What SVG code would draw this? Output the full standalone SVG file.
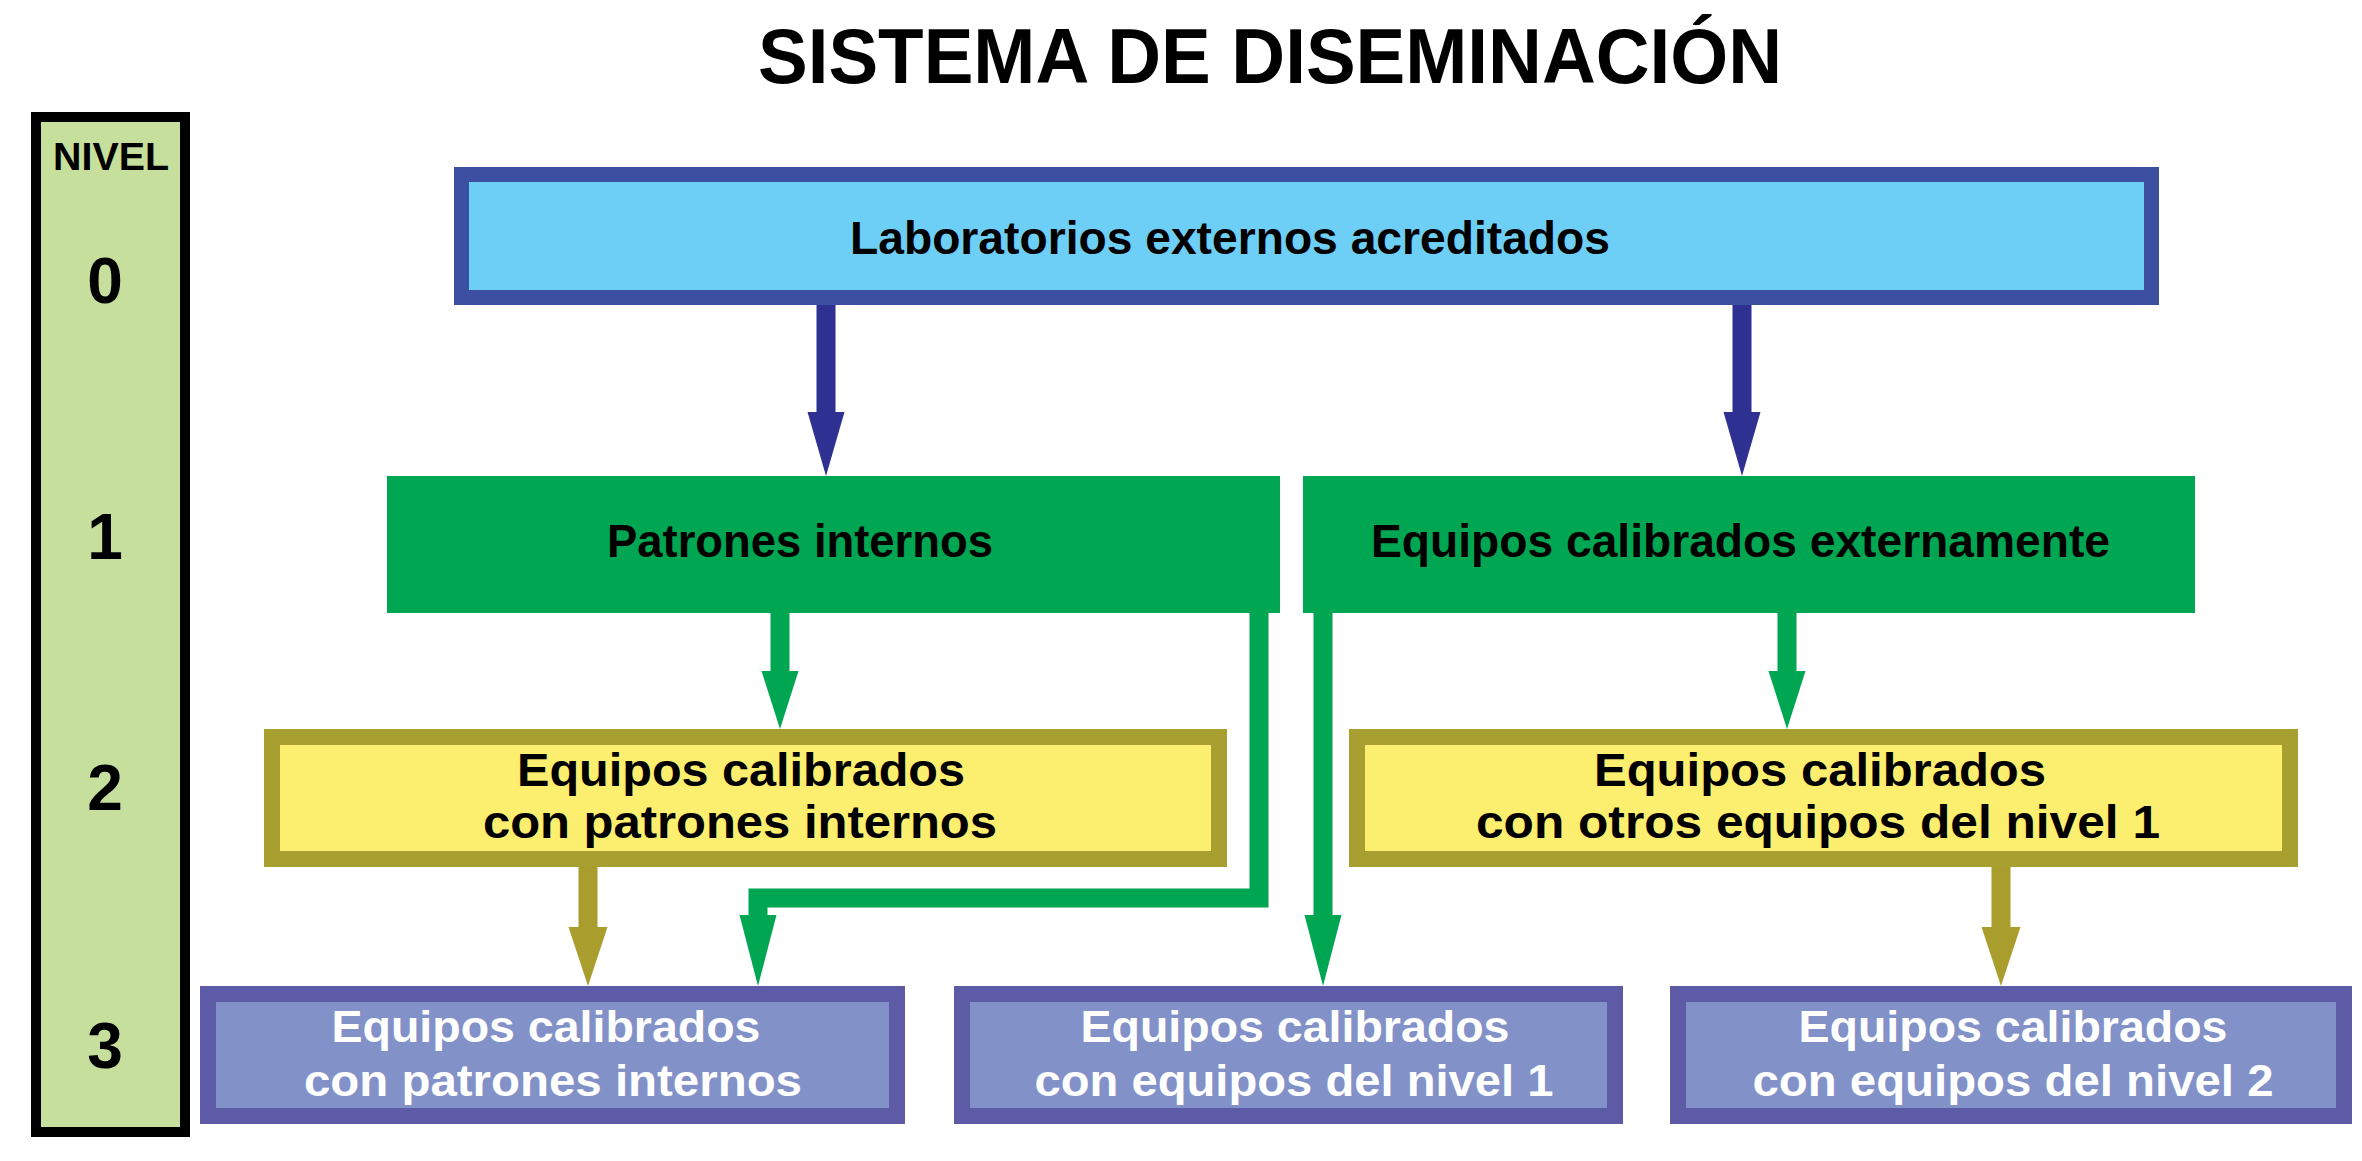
<svg xmlns="http://www.w3.org/2000/svg" width="2362" height="1161" viewBox="0 0 2362 1161">
<style>
  text { font-family: "Liberation Sans", Arial, Helvetica, sans-serif; font-weight: bold; }
  .title { font-size: 77px; fill: #000; }
  .lvl { font-size: 64px; fill: #000; text-anchor: middle; }
  .nivel { font-size: 39px; fill: #000; text-anchor: middle; }
  .t0 { font-size: 46px; fill: #000; }
  .t1 { font-size: 46px; fill: #000; }
  .t2 { font-size: 46px; fill: #000; text-anchor: middle; }
  .t3 { font-size: 44px; fill: #fff; text-anchor: middle; }
  .bar { fill: #c6df9c; stroke: #000; stroke-width: 10; }
  .b0 { fill: #6dcff6; stroke: #3c4fa1; stroke-width: 15; }
  .b1 { fill: #00a651; }
  .b2 { fill: #fcee6e; stroke: #a89f31; stroke-width: 16; }
  .b3 { fill: #8291c8; stroke: #5d5ba6; stroke-width: 16; }
  .cn { fill: none; stroke-width: 19; stroke-linejoin: miter; }
  .navy { stroke: #2e3192; marker-end: url(#hNavy); }
  .green { stroke: #00a651; marker-end: url(#hGreen); }
  .greenL { stroke: #00a651; marker-end: url(#hGreenL); }
  .olive { stroke: #a99d2e; marker-end: url(#hOlive); }
</style>
<defs>
  <marker id="hNavy" markerUnits="userSpaceOnUse" viewBox="-1 -19 65 38" markerWidth="65" markerHeight="38" refX="0" refY="0" orient="auto">
    <path d="M-1,-18.5 L63,0 L-1,18.5 Z" fill="#2e3192"/>
  </marker>
  <marker id="hGreen" markerUnits="userSpaceOnUse" viewBox="-1 -19 59 38" markerWidth="59" markerHeight="38" refX="0" refY="0" orient="auto">
    <path d="M-1,-18.5 L57,0 L-1,18.5 Z" fill="#00a651"/>
  </marker>
  <marker id="hGreenL" markerUnits="userSpaceOnUse" viewBox="-1 -19 72 38" markerWidth="72" markerHeight="38" refX="0" refY="0" orient="auto">
    <path d="M-1,-18.5 L70,0 L-1,18.5 Z" fill="#00a651"/>
  </marker>
  <marker id="hOlive" markerUnits="userSpaceOnUse" viewBox="-1 -20 60 40" markerWidth="60" markerHeight="40" refX="0" refY="0" orient="auto">
    <path d="M-1,-19.5 L58,0 L-1,19.5 Z" fill="#a99d2e"/>
  </marker>
</defs>
<rect width="2362" height="1161" fill="#fff"/>

<text class="title" x="758" y="83" textLength="1024" lengthAdjust="spacingAndGlyphs">SISTEMA DE DISEMINACIÓN</text>

<g id="niveles">
  <rect class="bar" x="36" y="117" width="149" height="1015"/>
  <text class="nivel" x="111" y="170" textLength="116" lengthAdjust="spacingAndGlyphs">NIVEL</text>
  <text class="lvl" x="105" y="303">0</text>
  <text class="lvl" x="105" y="559">1</text>
  <text class="lvl" x="105" y="810">2</text>
  <text class="lvl" x="105" y="1068">3</text>
</g>

<g id="connectors">
  <path class="cn navy" d="M826,296 V413"/>
  <path class="cn navy" d="M1742,296 V413"/>
  <path class="cn green" d="M780,612 V672"/>
  <path class="cn green" d="M1787,612 V672"/>
  <path class="cn greenL" d="M1259,612 V898 H758 V916"/>
  <path class="cn greenL" d="M1323,612 V916"/>
  <path class="cn olive" d="M588,866 V928"/>
  <path class="cn olive" d="M2001,866 V928"/>
</g>

<g id="lab-externos">
  <rect class="b0" x="461.5" y="174.5" width="1690" height="123"/>
  <text class="t0" x="850" y="254" textLength="760" lengthAdjust="spacingAndGlyphs">Laboratorios externos acreditados</text>
</g>

<g id="patrones-internos">
  <rect class="b1" x="387" y="476" width="893" height="137"/>
  <text class="t1" x="607" y="557" textLength="386" lengthAdjust="spacingAndGlyphs">Patrones internos</text>
</g>

<g id="equipos-externos">
  <rect class="b1" x="1303" y="476" width="892" height="137"/>
  <text class="t1" x="1371" y="557" textLength="739" lengthAdjust="spacingAndGlyphs">Equipos calibrados externamente</text>
</g>

<g id="n2-patrones">
  <rect class="b2" x="272" y="737" width="947" height="122"/>
  <text class="t2" x="741" y="786" textLength="448" lengthAdjust="spacingAndGlyphs">Equipos calibrados</text>
  <text class="t2" x="740" y="838" textLength="514" lengthAdjust="spacingAndGlyphs">con patrones internos</text>
</g>

<g id="n2-otros">
  <rect class="b2" x="1357" y="737" width="933" height="122"/>
  <text class="t2" x="1820" y="786" textLength="452" lengthAdjust="spacingAndGlyphs">Equipos calibrados</text>
  <text class="t2" x="1818" y="838" textLength="684" lengthAdjust="spacingAndGlyphs">con otros equipos del nivel 1</text>
</g>

<g id="n3-patrones">
  <rect class="b3" x="208" y="994" width="689" height="122"/>
  <text class="t3" x="546" y="1042" textLength="429" lengthAdjust="spacingAndGlyphs">Equipos calibrados</text>
  <text class="t3" x="553" y="1096" textLength="498" lengthAdjust="spacingAndGlyphs">con patrones internos</text>
</g>

<g id="n3-nivel1">
  <rect class="b3" x="962" y="994" width="653" height="122"/>
  <text class="t3" x="1295" y="1042" textLength="429" lengthAdjust="spacingAndGlyphs">Equipos calibrados</text>
  <text class="t3" x="1294" y="1096" textLength="519" lengthAdjust="spacingAndGlyphs">con equipos del nivel 1</text>
</g>

<g id="n3-nivel2">
  <rect class="b3" x="1678" y="994" width="666" height="122"/>
  <text class="t3" x="2013" y="1042" textLength="429" lengthAdjust="spacingAndGlyphs">Equipos calibrados</text>
  <text class="t3" x="2013" y="1096" textLength="521" lengthAdjust="spacingAndGlyphs">con equipos del nivel 2</text>
</g>
</svg>
